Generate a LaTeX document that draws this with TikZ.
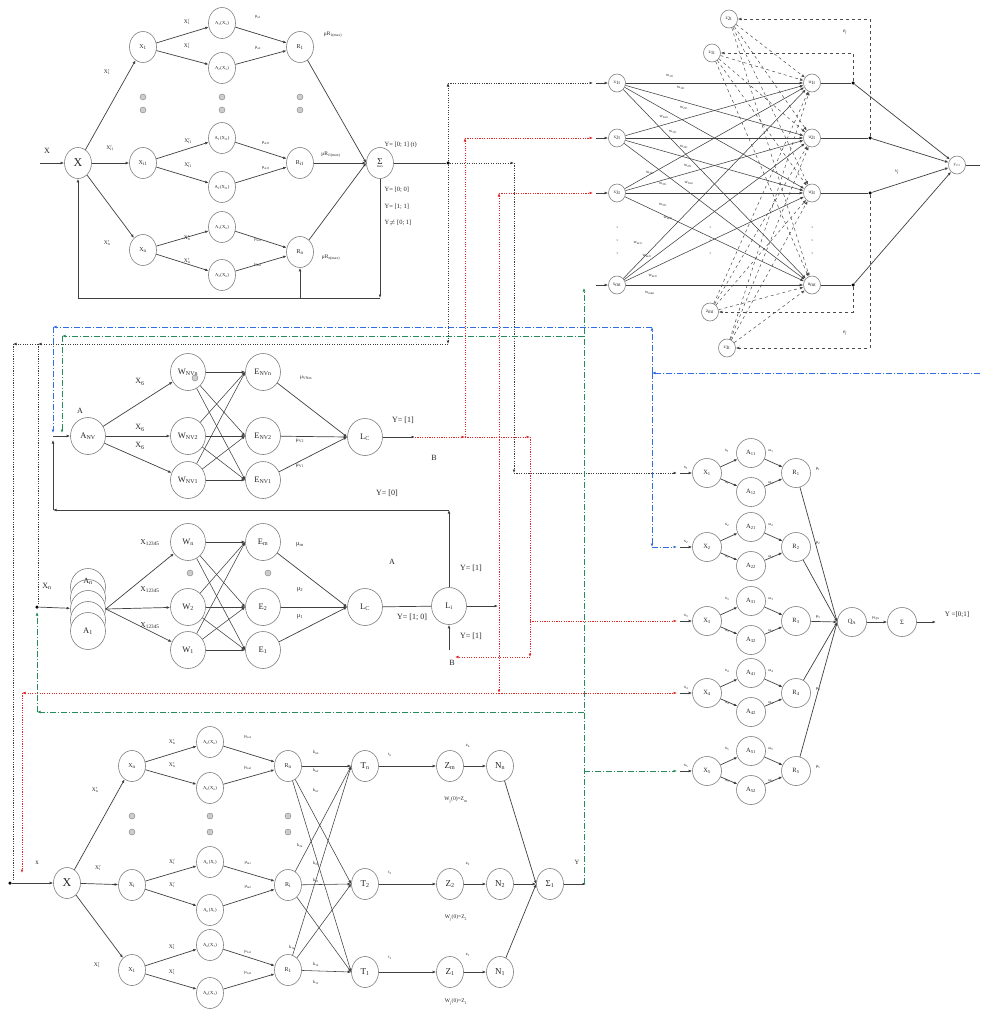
\documentclass[tikz,border=0pt]{standalone}
\usepackage{fix-cm}
\usepackage{fontspec}
\setmainfont{Liberation Serif}
\usetikzlibrary{arrows.meta,shapes.geometric}
\definecolor{cR}{RGB}{225,40,40}
\definecolor{cG}{RGB}{40,140,90}
\definecolor{cB}{RGB}{50,110,225}
\definecolor{cK}{RGB}{60,60,60}
\newcommand{\su}[1]{\textsubscript{#1}}
\newcommand{\pr}[2]{#1\rlap{$^{\prime}$}\textsubscript{#2}}
\tikzset{
 nd/.style={ellipse,draw=black!50,line width=0.6pt,inner sep=0pt,fill=white,text=black!85},
 nA/.style={nd,minimum width=27pt,minimum height=31pt,font=\fontsize{6}{6}\selectfont},
 nAs/.style={nA,font=\fontsize{4.6}{4.6}\selectfont},
 nE/.style={nA,font=\fontsize{9}{9}\selectfont},
 nB/.style={nd,minimum width=35pt,minimum height=37pt,font=\fontsize{8.5}{8.5}\selectfont},
 nC/.style={nd,minimum width=29pt,minimum height=29pt,font=\fontsize{6.5}{6.5}\selectfont},
 nD/.style={nd,minimum width=17pt,minimum height=18pt,font=\fontsize{5}{5}\selectfont},
 lb/.style={font=\fontsize{5.5}{5.5}\selectfont,inner sep=0.5pt,text=black!85},
 lbs/.style={font=\fontsize{4.5}{4.5}\selectfont,inner sep=0.3pt,text=black!85},
 lbb/.style={font=\fontsize{8}{8}\selectfont,inner sep=0.5pt,text=black!85},
 tp/.style={-{Latex[length=3.5pt,width=2.8pt]}},
 ln/.style={draw=black!75,line width=0.7pt},
 ar/.style={ln,tp},
 kd/.style={draw=cK,line width=0.9pt,dash pattern=on 1.1pt off 1.3pt},
 rd/.style={draw=cR,line width=0.9pt,dash pattern=on 1.1pt off 1.3pt},
 gd/.style={draw=cG,line width=0.8pt,dash pattern=on 6pt off 2pt on 1pt off 2pt},
 bd/.style={draw=cB,line width=0.8pt,dash pattern=on 6pt off 2pt on 1pt off 2pt},
 gdot/.style={circle,draw=gray,fill=gray!40,inner sep=0pt,minimum size=6pt},
 jd/.style={circle,fill=black,inner sep=0pt,minimum size=3.5pt},
}
\begin{document}
\begin{tikzpicture}[x=1pt,y=-1pt]
\useasboundingbox[fill=white] (0,0) rectangle (980,1009);

% ================= top-left block
\node[nA,font=\fontsize{12}{12}\selectfont] (X) at (78,163) {X};
\node[nA] (X1) at (143,47) {X\su{1}};
\node[nA] (Xi) at (143,163) {X\su{i1}};
\node[nA] (Xn) at (143,250) {X\su{n}};
\node[nAs] (A11) at (222,23) {A\su{1}(X\su{1})};
\node[nAs] (A12) at (222,68) {A\su{2}(X\su{1})};
\node[nAs] (Ai1) at (222,138) {A\su{1}(X\su{i1})};
\node[nAs] (Ai2) at (222,187) {A\su{2}(X\su{i1})};
\node[nAs] (An1) at (222,227) {A\su{1}(X\su{n})};
\node[nAs] (An2) at (222,275) {A\su{2}(X\su{n})};
\node[nA] (R1) at (300,47) {R\su{1}};
\node[nA] (Ri) at (300,163) {R\su{i1}};
\node[nA] (Rn) at (300,252) {R\su{n}};
\node[nA] (S) at (380,163) {\shortstack{{\fontsize{9}{9}\selectfont Σ}\\[-1pt]{\fontsize{3.5}{3.5}\selectfont max}}};
\coordinate (xin) at (40,163);
\draw[ar] (xin) -- (X);
\foreach \t in {X1,Xi,Xn} \draw[ar] (X) -- (\t);
\draw[ar] (X1) -- (A11); \draw[ar] (X1) -- (A12);
\draw[ar] (Xi) -- (Ai1); \draw[ar] (Xi) -- (Ai2);
\draw[ar] (Xn) -- (An1); \draw[ar] (Xn) -- (An2);
\draw[ar] (A11) -- (R1); \draw[ar] (A12) -- (R1);
\draw[ar] (Ai1) -- (Ri); \draw[ar] (Ai2) -- (Ri);
\draw[ar] (An1) -- (Rn); \draw[ar] (An2) -- (Rn);
\foreach \t in {R1,Ri,Rn} \draw[ar] (\t) -- (S.west);
\node[jd] (j1) at (448,163) {};
\draw[ln] (S) -- (j1);
\coordinate (fb1) at (380,298); \coordinate (fb2) at (78,298); \coordinate (fb3) at (300,298);
\draw[ar] (S) -- (fb1);
\draw[ar] (fb1) -- (fb2) -- (X);
\draw[ar] (fb3) -- (Rn);
\foreach \xx in {143,222,300} {\node[gdot] at (\xx,97) {}; \node[gdot] at (\xx,110) {};}
\node[lbb] at (47,151) {X};
\node[lb] at (107,72) {\pr{X}{1}};
\node[lb] at (110,148) {\pr{X}{i1}};
\node[lb] at (107,243) {\pr{X}{n}};
\node[lb] at (187,22) {\pr{X}{1}}; \node[lb] at (187,46) {\pr{X}{1}};
\node[lb] at (188,141) {\pr{X}{i1}}; \node[lb] at (188,165) {\pr{X}{i1}};
\node[lb] at (187,238) {\pr{X}{n}}; \node[lb] at (187,261) {\pr{X}{n}};
\node[lbs] at (258,17) {μ\su{a1}}; \node[lbs] at (258,48) {μ\su{a2}};
\node[lbs] at (266,143) {μ\su{ai11}}; \node[lbs] at (266,168) {μ\su{ai11}};
\node[lbs] at (258,240) {μ\su{an1}}; \node[lbs] at (258,265) {μ\su{an2}};
\node[lb] at (333,35) {μR\su{1(max)}};
\node[lb] at (331,155) {μR\su{i1(max)}};
\node[lb] at (331,258) {μR\su{n(max)}};
\node[lb,font=\fontsize{6.5}{6.5}\selectfont,anchor=west] at (384,145) {Y= [0; 1] (t)};
\node[lb,font=\fontsize{6.5}{6.5}\selectfont,anchor=west] at (384,190) {Y= [0; 0]};
\node[lb,font=\fontsize{6.5}{6.5}\selectfont,anchor=west] at (384,207) {Y= [1; 1]};
\node[lb,font=\fontsize{6.5}{6.5}\selectfont,anchor=west] at (384,223) {Y$\neq$ [0; 1]};

% ================= neural network (top right)
\node[nD] (x1t) at (617,83) {x\su{1t}};
\node[nD] (x2t) at (617,138) {x\su{2t}};
\node[nD] (x3t) at (617,193) {x\su{3t}};
\node[nD] (xmt) at (617,285) {x\su{mt}};
\node[nD] (u1t) at (812,83) {u\su{1t}};
\node[nD] (u2t) at (812,138) {u\su{2t}};
\node[nD] (u3t) at (812,193) {u\su{3t}};
\node[nD] (umt) at (812,285) {u\su{mt}};
\node[nD] (z2t) at (729,19) {z\su{2t}};
\node[nD] (z1t) at (712,53) {z\su{1t}};
\node[nD] (zmt) at (710,312) {z\su{mt}};
\node[nD] (z3t) at (727,348) {z\su{3t}};
\node[jd] (d1) at (853,83) {};
\node[jd] (d2) at (870,138) {};
\node[jd] (d3) at (870,193) {};
\node[jd] (d4) at (853,285) {};
\node[nD,font=\fontsize{4.5}{4.5}\selectfont] (yt) at (957,165) {y\su{t+1}};
\foreach \a in {x1t,x2t,x3t,xmt}{\foreach \b in {u1t,u2t,u3t,umt}{\draw[ar,line width=0.55pt] (\a) -- (\b);}}
\foreach \a in {z1t,z2t,zmt,z3t}{\foreach \b in {u1t,u2t,u3t,umt}{\draw[draw=black!70,line width=0.5pt,dashed,tp] (\a) -- (\b);}}
\draw[ln] (u1t) -- (d1); \draw[ln] (u2t) -- (d2); \draw[ln] (u3t) -- (d3); \draw[ln] (umt) -- (d4);
\foreach \d in {d1,d2,d3,d4} \draw[ar] (\d) -- (yt);
\coordinate (yo) at (980,165); \draw[ln] (yt) -- (yo);
\draw[draw=black!70,line width=0.6pt,dashed,tp] (d1) -- (853,53) -- (z1t);
\draw[draw=black!70,line width=0.6pt,dashed,tp] (d2) -- (870,19) -- (z2t);
\draw[draw=black!70,line width=0.6pt,dashed,tp] (d4) -- (853,312) -- (zmt);
\draw[draw=black!70,line width=0.6pt,dashed,tp] (d3) -- (870,348) -- (z3t);
\node[lb] at (845,32) {\textit{e\su{j}}}; \node[lb] at (845,333) {\textit{e\su{j}}};
\node[lb] at (897,172) {\textit{v\su{j}}};
\foreach \yy in {227,240,253} {\fill (617,\yy) circle (0.5); \fill (812,\yy) circle (0.5); \fill (710,\yy) circle (0.5);}
\foreach \p/\w in {{670,76}/{11t},{681,88}/{12t},{684,108}/{21t},{664,117}/{2mt},{673,132}/{13t},{684,147}/{22t},{688,166}/{23t},{650,173}/{32t},{663,184}/{31t},{689,183}/{3mt},{663,205}/{33t},{668,218}/{m3t},{638,243}/{m1t},{647,256}/{m2t},{653,276}/{m3t},{650,293}/{mmt}}
  {\node[lbs] at (\p) {w\su{\w}};}
\foreach \n/\yy in {x1t/83,x2t/138,x3t/193,xmt/285} {\coordinate (i\n) at (596,\yy); \draw[ar] (i\n) -- (\n);}

% ================= middle-left (NV block)
\node[nB] (ANV) at (88,436) {A\su{NV}};
\node[nB] (WNn) at (188,372) {W\su{NVn}};
\node[gdot] at (195,378) {};
\node[nB] (WN2) at (188,436) {W\su{NV2}};
\node[nB] (WN1) at (188,480) {W\su{NV1}};
\node[nB] (ENn) at (263,372) {E\su{NVn}};
\node[nB] (EN2) at (263,436) {E\su{NV2}};
\node[nB] (EN1) at (263,480) {E\su{NV1}};
\node[nB] (Lc1) at (365,437) {L\su{C}};
\foreach \w in {WNn,WN2,WN1} {\draw[ar] (ANV) -- (\w);}
\foreach \w in {WNn,WN2,WN1} {\foreach \e in {ENn,EN2,EN1} {\draw[ar,line width=0.55pt] (\w) -- (\e.west);}}
\foreach \e in {ENn,EN2,EN1} \draw[ar] (\e) -- (Lc1.west);
\node[lbb] at (80,411) {A};
\node[lbb] at (140,382) {X\su{6}}; \node[lbb] at (140,428) {X\su{6}}; \node[lbb] at (140,446) {X\su{6}};
\node[lb] at (306,378) {μ\su{VNm}}; \node[lb] at (300,441) {μ\su{V2}}; \node[lb] at (300,466) {μ\su{V1}};
\node[lbb] at (403,420) {Y= [1]};
\node[lbb] at (434,458) {B};
\node[lbb] at (387,493) {Y= [0]};
\coordinate (lcout) at (415,437); \draw[ar] (Lc1) -- (lcout);

% ================= lower-middle block
\foreach \yy in {587,598} {\node[nB] at (88,\yy) {};}
\node[nB] (Asc) at (88,609) {};
\node[nB] at (88,620) {};
\node[nB] (As1) at (88,631) {A\su{1}};
\node[lbb] at (88,581) {A\su{n}};
\node[nB] (Wn) at (188,542) {W\su{n}};
\node[nB] (W2) at (188,607) {W\su{2}};
\node[nB] (W1) at (188,650) {W\su{1}};
\node[nB] (Em) at (263,542) {E\su{m}};
\node[nB] (E2) at (263,607) {E\su{2}};
\node[nB] (E1) at (263,650) {E\su{1}};
\node[nB] (Lc2) at (365,607) {L\su{C}};
\node[nB] (Li) at (449,606) {L\su{i}};
\node[gdot] at (190,573) {}; \node[gdot] at (268,573) {};
\node[jd] (jxn) at (37,607) {};
\draw[ar] (jxn) -- (Asc);
\foreach \w in {Wn,W2,W1} {\draw[ar] (Asc.east) -- (\w);}
\foreach \w in {Wn,W2,W1} {\foreach \e in {Em,E2,E1} {\draw[ar,line width=0.55pt] (\w) -- (\e.west);}}
\foreach \e in {Em,E2,E1} \draw[ar] (\e) -- (Lc2.west);
\draw[ln] (Lc2) -- (Li);
\coordinate (liout) at (498,606); \draw[ar] (Li) -- (liout);
\coordinate (liu) at (449,510); \coordinate (lil) at (53,510); \coordinate (lia) at (53,440);
\draw[ar] (Li) -- (liu);
\draw[ar] (liu) -- (lil);
\draw[ar] (lil) -- (lia);
\coordinate (ain) at (53,436); \draw[ar] (ain) -- (ANV);
\coordinate (lib) at (449,650); \draw[ar] (lib) -- (Li);
\node[lbb] at (47,586) {X\su{n}};
\node[lb,font=\fontsize{7.5}{7.5}\selectfont] at (150,543) {X\su{12345}};
\node[lb,font=\fontsize{7.5}{7.5}\selectfont] at (150,590) {X\su{12345}};
\node[lb,font=\fontsize{7.5}{7.5}\selectfont] at (150,626) {X\su{12345}};
\node[lb,font=\fontsize{6.5}{6.5}\selectfont] at (300,545) {μ\su{m}};
\node[lb,font=\fontsize{6.5}{6.5}\selectfont] at (300,590) {μ\su{2}};
\node[lb,font=\fontsize{6.5}{6.5}\selectfont] at (300,617) {μ\su{1}};
\node[lbb] at (392,562) {A};
\node[lbb] at (412,617) {Y= [1; 0]};
\node[lbb] at (471,568) {Y= [1]};
\node[lbb] at (471,636) {Y= [1]};
\node[lbb] at (452,663) {B};

% ================= right units
\foreach \k/\y in {1/473,2/547,3/621,4/693,5/771} {
  \node[nC] (UX\k) at (707,\y) {X\su{\k}};
  \node[nC] (UA\k1) at (751,\y-20) {A\su{\k1}};
  \node[nC] (UA\k2) at (751,\y+19) {A\su{\k2}};
  \node[nC] (UR\k) at (796,\y) {R\su{\k}};
  \draw[ar] (UX\k) -- (UA\k1); \draw[ar] (UX\k) -- (UA\k2);
  \draw[ar] (UA\k1) -- (UR\k); \draw[ar] (UA\k2) -- (UR\k);
  \coordinate (UI\k) at (680,\y);
  \draw[ar] (UI\k) -- (UX\k);
  \node[lbs] at (686,\y-5) {x\su{\k}};
  \node[lbs] at (727,\y-22) {x\su{\k}};
  \node[lbs] at (727,\y+10) {x\su{\k}};
  \node[lbs] at (771,\y-22) {ω\su{\k}};
  \node[lbs] at (771,\y+10) {ω\su{\k}};
  \node[lbs] at (818,\y-4) {μ\su{\k}};
}
\node[nC] (QA) at (852,622) {Q\su{A}};
\node[nC] (SR) at (902,622) {Σ};
\foreach \k in {1,...,5} \draw[ar] (UR\k) -- (QA.west);
\draw[ar] (QA) -- (SR);
\coordinate (yo2) at (936,622); \draw[ar] (SR) -- (yo2);
\node[lbs] at (876,618) {μ\su{QA}};
\node[lb,font=\fontsize{7}{7}\selectfont] at (957,615) {Y =[0;1]};

% ================= bottom block
\node[nA,font=\fontsize{12}{12}\selectfont] (bX) at (67,883) {X};
\node[nA] (bXn) at (132,766) {X\su{n}};
\node[nA] (bXi) at (132,885) {X\su{i}};
\node[nA] (bX1) at (132,970) {X\su{1}};
\node[nAs] (bAn1) at (210,742) {A\su{n}(X\su{n})};
\node[nAs] (bAn2) at (210,788) {A\su{n}(X\su{n})};
\node[nAs] (bAi1) at (210,862) {A\su{n}(X\su{i})};
\node[nAs] (bAi2) at (210,910) {A\su{n}(X\su{i})};
\node[nAs] (bA11) at (210,945) {A\su{n}(X\su{1})};
\node[nAs] (bA12) at (210,993) {A\su{n}(X\su{1})};
\node[nA] (bRn) at (288,766) {R\su{n}};
\node[nA] (bRi) at (288,885) {R\su{i}};
\node[nA] (bR1) at (288,970) {R\su{1}};
\node[nE] (Tn) at (365,766) {T\su{n}};
\node[nE] (T2) at (365,884) {T\su{2}};
\node[nE] (T1) at (365,972) {T\su{1}};
\node[nE] (Zm) at (450,766) {Z\su{m}};
\node[nE] (Z2) at (450,884) {Z\su{2}};
\node[nE] (Z1) at (450,972) {Z\su{1}};
\node[nE] (Nn) at (500,766) {N\su{n}};
\node[nE] (N2) at (500,884) {N\su{2}};
\node[nE] (N1) at (500,972) {N\su{1}};
\node[nE] (S1) at (550,884) {Σ\su{1}};
\node[jd] (bin) at (10,883) {};
\draw[ar] (bin) -- (bX);
\foreach \t in {bXn,bXi,bX1} \draw[ar] (bX) -- (\t);
\draw[ar] (bXn) -- (bAn1); \draw[ar] (bXn) -- (bAn2);
\draw[ar] (bXi) -- (bAi1); \draw[ar] (bXi) -- (bAi2);
\draw[ar] (bX1) -- (bA11); \draw[ar] (bX1) -- (bA12);
\draw[ar] (bAn1) -- (bRn); \draw[ar] (bAn2) -- (bRn);
\draw[ar] (bAi1) -- (bRi); \draw[ar] (bAi2) -- (bRi);
\draw[ar] (bA11) -- (bR1); \draw[ar] (bA12) -- (bR1);
\foreach \r in {bRn,bRi,bR1} {\foreach \t in {Tn,T2,T1} {\draw[ar,line width=0.55pt] (\r) -- (\t.west);}}
\draw[ar] (Tn) -- (Zm); \draw[ar] (T2) -- (Z2); \draw[ar] (T1) -- (Z1);
\draw[ar] (Zm) -- (Nn); \draw[ar] (Z2) -- (N2); \draw[ar] (Z1) -- (N1);
\foreach \n in {Nn,N2,N1} \draw[ar] (\n) -- (S1.west);
\coordinate (yb) at (586,884); \draw[ar] (S1) -- (yb);
\foreach \xx in {132,210,288} {\node[gdot] at (\xx,816) {}; \node[gdot] at (\xx,832) {};}
\node[lb,font=\fontsize{7}{7}\selectfont] at (37,863) {x};
\node[lb] at (95,790) {\pr{X}{n}}; \node[lb] at (98,868) {\pr{X}{i}}; \node[lb] at (97,965) {\pr{X}{1}};
\node[lb] at (172,742) {\pr{X}{n}}; \node[lb] at (172,765) {\pr{X}{n}};
\node[lb] at (172,862) {\pr{X}{i}}; \node[lb] at (172,885) {\pr{X}{i}};
\node[lb] at (172,947) {\pr{X}{1}}; \node[lb] at (172,972) {\pr{X}{1}};
\node[lbs] at (248,737) {μ\su{na1}}; \node[lbs] at (248,768) {μ\su{na2}};
\node[lbs] at (248,863) {μ\su{ia1}}; \node[lbs] at (248,887) {μ\su{ia2}};
\node[lbs] at (248,952) {μ\su{1a1}}; \node[lbs] at (248,973) {μ\su{1a2}};
\node[lbs] at (316,752) {k\su{nn}}; \node[lbs] at (316,770) {k\su{n2}}; \node[lbs] at (316,790) {k\su{n1}};
\node[lbs] at (300,845) {k\su{2n}}; \node[lbs] at (316,863) {k\su{22}}; \node[lbs] at (316,880) {k\su{21}};
\node[lbs] at (292,947) {k\su{1n}}; \node[lbs] at (316,964) {k\su{12}}; \node[lbs] at (316,982) {k\su{11}};
\node[lbs] at (390,755) {t\su{n}}; \node[lbs] at (390,873) {t\su{2}}; \node[lbs] at (390,958) {t\su{1}};
\node[lbs] at (468,746) {z\su{n}}; \node[lbs] at (468,864) {z\su{2}}; \node[lbs] at (468,955) {z\su{1}};
\node[lb] at (456,800) {W\su{j}(0)=Z\su{m}};
\node[lb] at (456,918) {W\su{j}(0)=Z\su{2}};
\node[lb] at (456,1002) {W\su{j}(0)=Z\su{1}};
\node[lb,font=\fontsize{6.5}{6.5}\selectfont] at (577,862) {Y};

% ================= coloured feedback connectors
% black dotted
\coordinate (k1) at (448,83); \coordinate (k1e) at (593,83);
\draw[kd,tp] (j1) -- (k1); \draw[kd,tp] (k1) -- (k1e);
\coordinate (k2) at (514,163); \coordinate (k2d) at (514,473); \coordinate (k2e) at (677,473);
\draw[kd,tp] (j1) -- (k2); \draw[kd,tp] (k2) -- (k2d); \draw[kd,tp] (k2d) -- (k2e);
\coordinate (k3) at (448,344); \coordinate (k4) at (38,344); \coordinate (k5) at (13,344);
\coordinate (k6) at (13,880); \coordinate (k7) at (38,604);
\draw[kd,tp] (j1) -- (k3); \draw[kd,tp] (k3) -- (k4); \draw[kd,tp] (k4) -- (k5);
\draw[kd] (k5) -- (k6); \draw[kd] (k4) -- (k7);
% red dotted
\coordinate (r1) at (465,437); \coordinate (r2) at (530,437); \coordinate (r3) at (465,138); \coordinate (r3e) at (593,138);
\draw[rd,tp] (lcout) -- (r1); \draw[rd,tp] (r1) -- (r2);
\draw[rd,tp] (r1) -- (r3); \draw[rd,tp] (r3) -- (r3e);
\coordinate (r4) at (499,437); \coordinate (r5) at (499,193); \coordinate (r5e) at (593,193); \coordinate (r6) at (499,693);
\draw[rd,tp] (r4) -- (r5); \draw[rd,tp] (r5) -- (r5e); \draw[rd,tp] (r4) -- (r6);
\coordinate (r7) at (22,693); \coordinate (r8) at (22,873); \coordinate (r9) at (677,693);
\draw[rd,tp] (r6) -- (r7); \draw[rd,tp] (r7) -- (r8); \draw[rd,tp] (r6) -- (r9);
\coordinate (r10) at (530,657); \coordinate (r11) at (455,657); \coordinate (r12) at (530,621); \coordinate (r13) at (677,621);
\draw[rd,tp] (r2) -- (r10); \draw[rd,tp] (r10) -- (r11); \draw[rd,tp] (r12) -- (r13);
% green dash-dot
\coordinate (g0) at (584,884); \coordinate (g1) at (584,288);
\draw[gd,tp] (g0) -- (g1);
\coordinate (g2) at (584,336); \coordinate (g3) at (62,336); \coordinate (g4) at (62,433);
\draw[gd,tp] (g2) -- (g3); \draw[gd,tp] (g3) -- (g4);
\coordinate (g5) at (584,712); \coordinate (g6) at (37,712); \coordinate (g7) at (37,612);
\draw[gd,tp] (g5) -- (g6); \draw[gd,tp] (g6) -- (g7);
\coordinate (g8) at (584,771); \coordinate (g9) at (677,771);
\draw[gd,tp] (g8) -- (g9);
% blue dash-dot
\coordinate (b0) at (980,373); \coordinate (b1) at (652,373); \coordinate (b2) at (652,327);
\coordinate (b3) at (53,327); \coordinate (b4) at (53,433); \coordinate (b5) at (652,547); \coordinate (b6) at (677,547);
\draw[bd,tp] (b0) -- (b1); \draw[bd,tp] (b1) -- (b2); \draw[bd,tp] (b2) -- (b3); \draw[bd,tp] (b3) -- (b4);
\draw[bd,tp] (b1) -- (b5); \draw[bd,tp] (b5) -- (b6);
\end{tikzpicture}
\end{document}
